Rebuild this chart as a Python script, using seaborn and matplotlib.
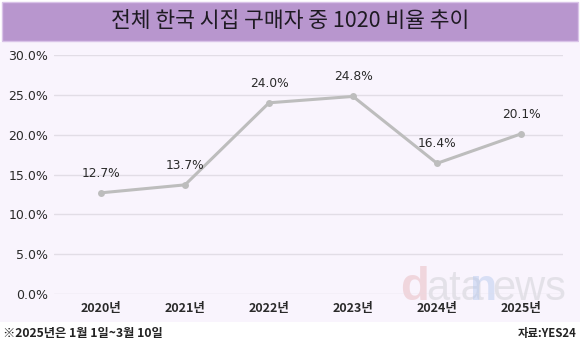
import matplotlib
matplotlib.use("Agg")
import matplotlib.pyplot as plt
import seaborn as sns
import pandas as pd
from matplotlib.patches import Rectangle
from matplotlib.ticker import FuncFormatter

years = ["2020년", "2021년", "2022년", "2023년", "2024년", "2025년"]
ratios = [12.7, 13.7, 24.0, 24.8, 16.4, 20.1]
y_ticks = [0, 5, 10, 15, 20, 25, 30]
title = "전체 한국 시집 구매자 중 1020 비율 추이"
note = "※2025년은 1월 1일~3월 10일"
source = "자료:YES24"

sns.set_theme(style="white")
plt.rcParams['font.family'] = ['Noto Sans CJK KR', 'DejaVu Sans']

df = pd.DataFrame({"year": years, "ratio": ratios})

W, H = 580, 347
fig = plt.figure(figsize=(W / 100, H / 100), dpi=100)
fig.patch.set_facecolor("white")

# plot background band
fig.patches.append(Rectangle((0, 1 - 322 / H), 1, (322 - 42) / H,
                             transform=fig.transFigure, facecolor="#f9f4fd",
                             edgecolor="none", zorder=-2))
# title banner
fig.patches.append(Rectangle((2 / W, 1 - 41 / H), 576 / W, 39 / H,
                             transform=fig.transFigure, facecolor="#b896ce",
                             edgecolor="#d9c3e8", linewidth=1.0, zorder=-2))
fig.text(0.5, 1 - 21 / H, title, ha="center", va="center", fontsize=15.5,
         color="#1e1a22")

ax = fig.add_axes([54 / W, 1 - 294 / H, (563 - 54) / W, (294 - 55) / H])
ax.set_facecolor("none")
ax.set_zorder(2)

# watermark (behind data)
wm = dict(transform=fig.transFigure, ha="left", va="baseline",
          family="Liberation Sans", alpha=0.5, zorder=0)
ax.text(400 / W, 1 - 300 / H, "d", fontsize=34, color="#e8b9be",
        fontweight="bold", **wm)
ax.text(426 / W, 1 - 300 / H, "ata", fontsize=30, color="#cfcfd4", **wm)
ax.text(470 / W, 1 - 300 / H, "n", fontsize=32, color="#b9cbee",
        fontweight="bold", **wm)
ax.text(492 / W, 1 - 300 / H, "ews", fontsize=30, color="#cfcfd4", **wm)

sns.lineplot(data=df, x="year", y="ratio", ax=ax, color="#bdbdbd",
             linewidth=2.2, marker="o", markersize=5, markeredgewidth=0,
             sort=False, clip_on=False, zorder=3)

for i, v in enumerate(ratios):
    ax.annotate(f"{v:.1f}%", (i, v), xytext=(0, 14), textcoords="offset points",
                ha="center", va="center", fontsize=8.8, color="#2a2a2a",
                family="DejaVu Sans")

ax.set_xlim(-0.56, 5.5)
ax.set_ylim(0, 30)
ax.set_yticks(y_ticks)
ax.yaxis.set_major_formatter(FuncFormatter(lambda v, p: f"{v:.1f}%"))
ax.grid(axis="y", color="#e2dde6", linewidth=1.0)
ax.grid(axis="x", visible=False)
ax.set_axisbelow(True)
for s in ax.spines.values():
    s.set_visible(False)
ax.tick_params(axis="y", length=0, pad=4, labelsize=9, labelcolor="#2a2a2a")
ax.tick_params(axis="x", length=0, pad=6, labelsize=9, labelcolor="#2a2a2a")
for lbl in ax.get_yticklabels():
    lbl.set_family("DejaVu Sans")
for lbl in ax.get_xticklabels():
    lbl.set_fontweight("bold")
ax.set_xlabel("")
ax.set_ylabel("")

fig.text(3 / W, 1 - 333 / H, note, ha="left", va="center", fontsize=8.8,
         fontweight="bold", color="#222222")
fig.text(577 / W, 1 - 333 / H, source, ha="right", va="center", fontsize=8.2,
         fontweight="bold", color="#222222")

fig.savefig("out.png", dpi=100, facecolor="white")
